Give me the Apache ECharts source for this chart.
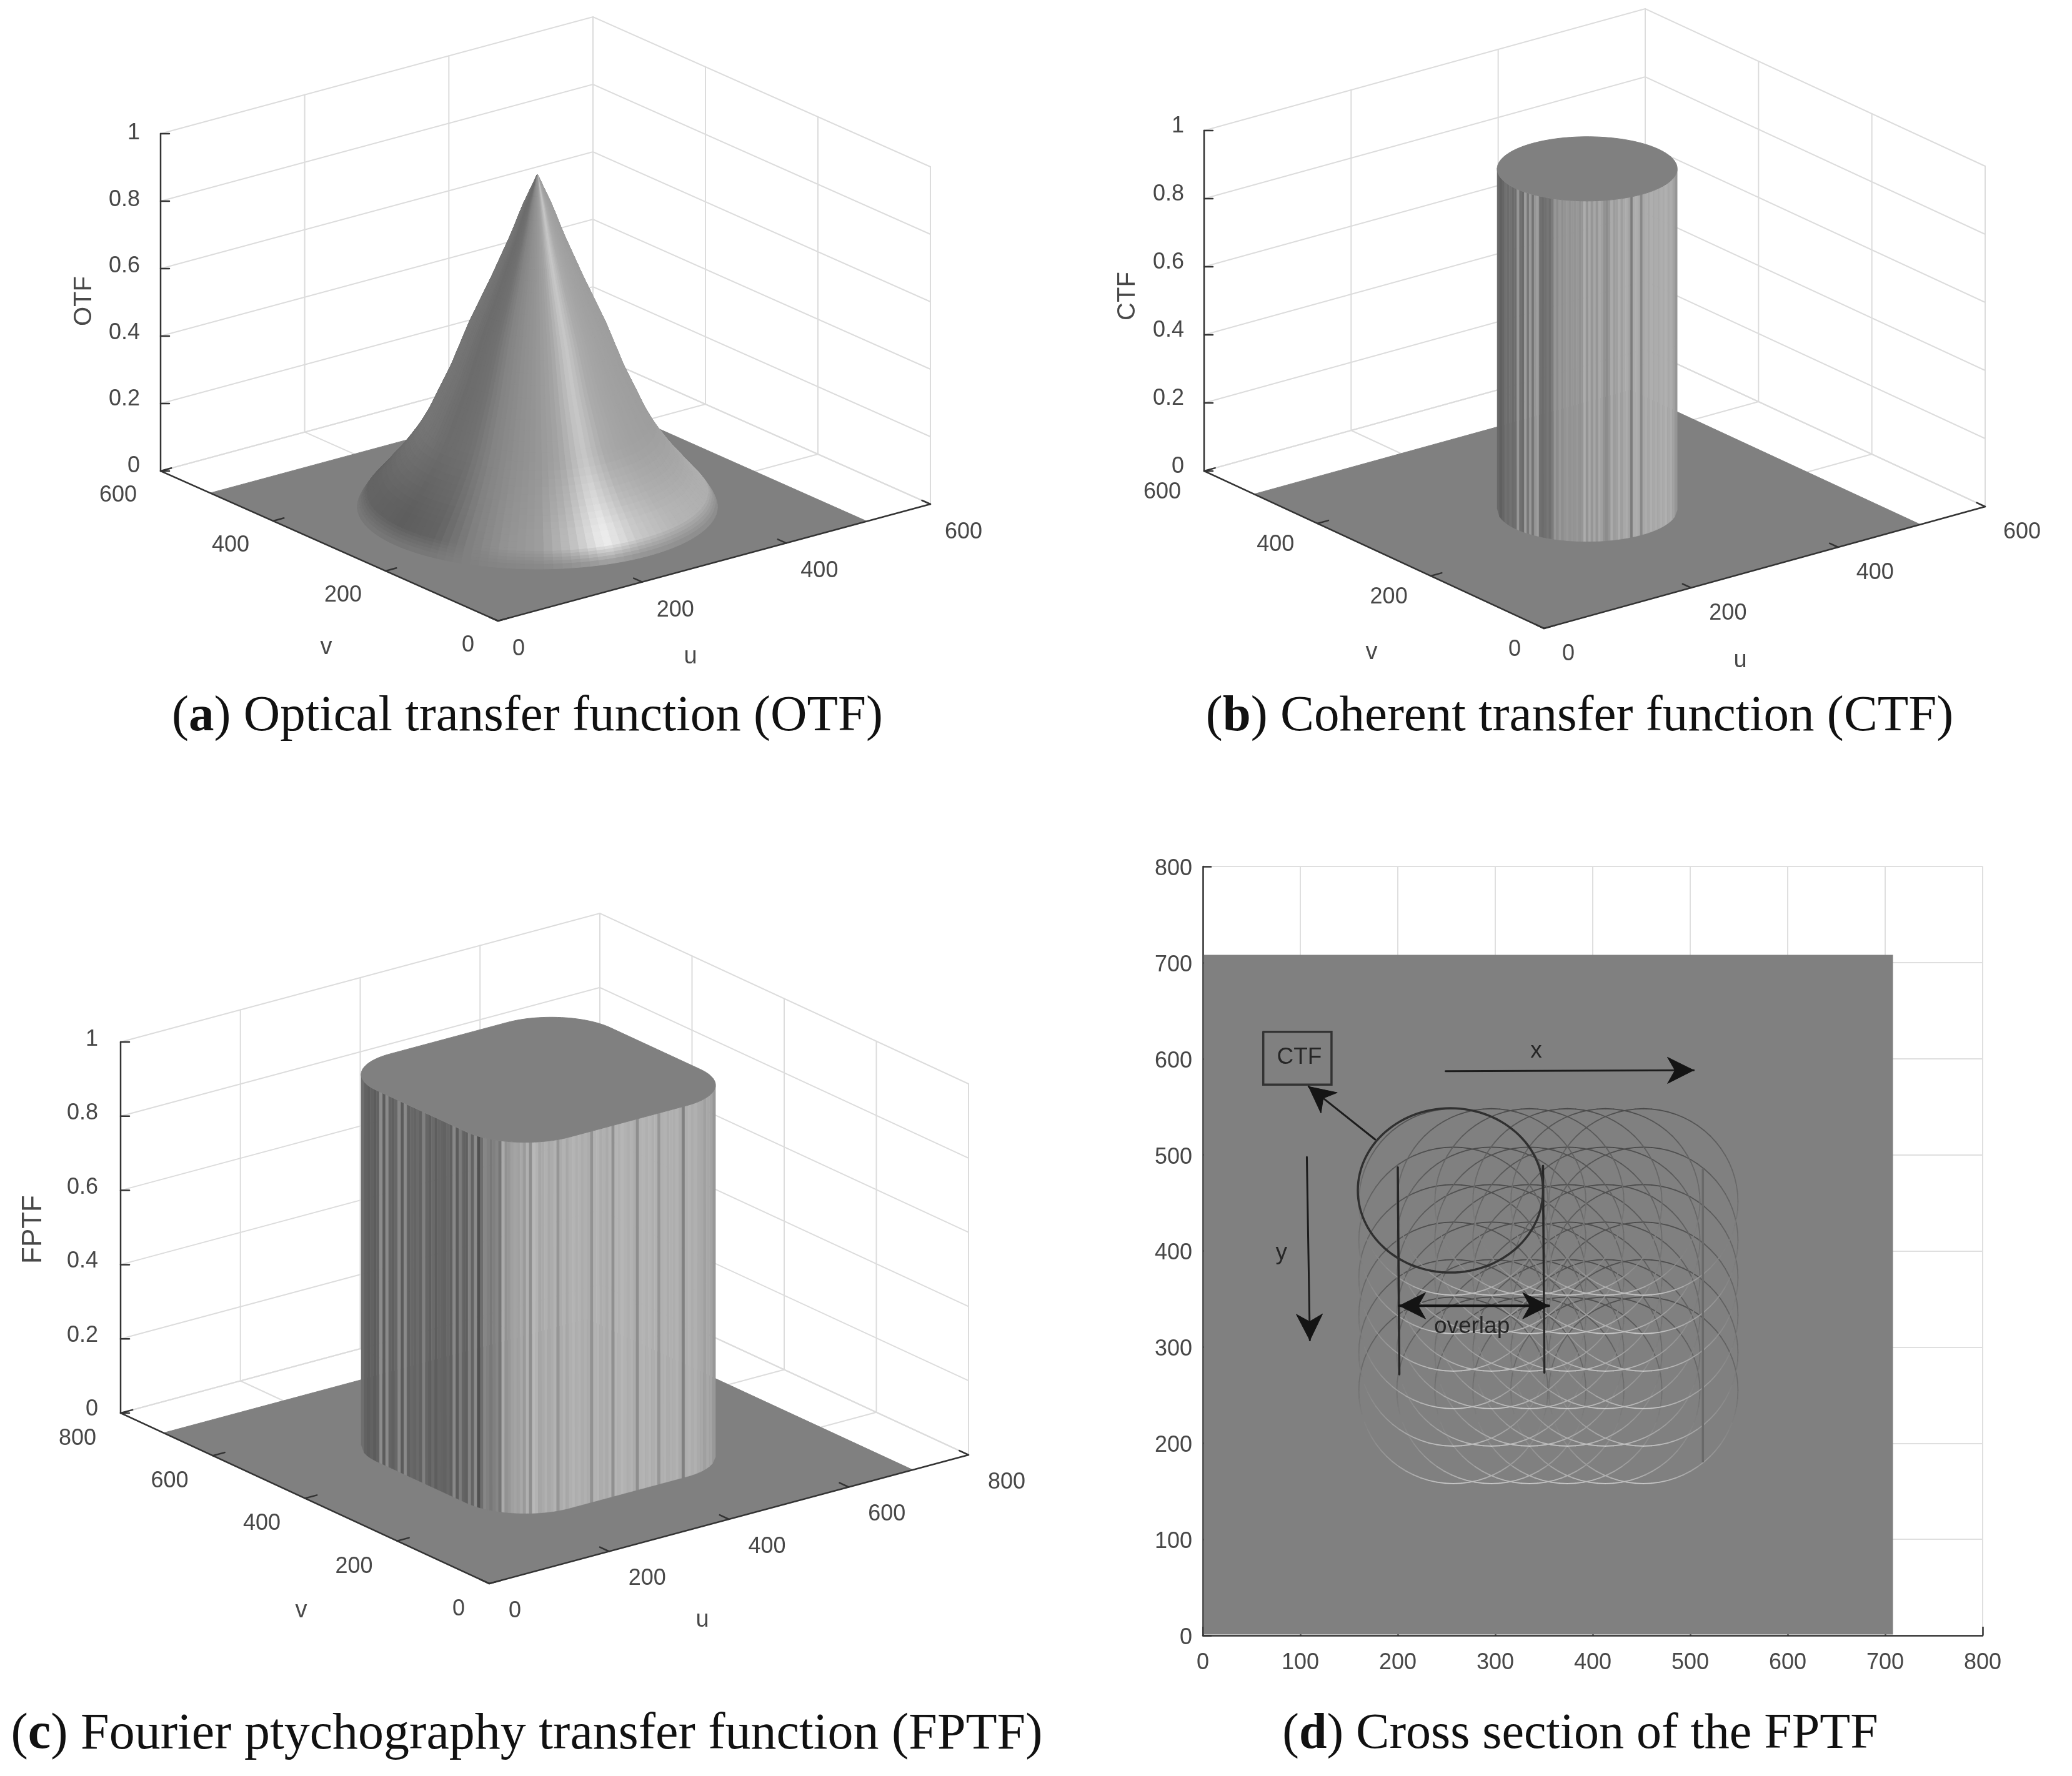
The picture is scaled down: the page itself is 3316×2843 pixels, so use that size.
<!DOCTYPE html>
<html>
<head>
<meta charset="utf-8">
<title>Transfer functions</title>
<style>
  html, body { margin: 0; padding: 0; background: #fff; }
  #main { width: 3316px; height: 2843px; }
</style>
<script src="https://cdn.jsdelivr.net/npm/echarts@6/dist/echarts.min.js"></script>
</head>
<body>
<div id="main"></div>
<script>
// tick labels
const zTicks = [0, 0.2, 0.4, 0.6, 0.8, 1]
const uvTicksSmall = [0, 200, 400, 600]
const uvTicksLarge = [0, 200, 400, 600, 800]
const sectionTicks = [0, 100, 200, 300, 400, 500, 600, 700, 800]

// surface extents
const smallFloorSize = 512
const largeFloorSize = 707

// (a) OTF profile: height against distance from the peak
const otfRadius = [0, 5, 10, 15, 20, 25, 30, 35, 40, 45, 50, 55, 60, 65, 70, 75, 80, 85, 90, 95, 100, 105, 110, 115, 120, 125, 130, 135, 140, 145, 150, 155, 160, 165, 170, 175, 180, 185, 187, 189, 191, 193, 195, 197]
const otfHeight = [0.985, 0.957, 0.928, 0.9, 0.867, 0.833, 0.8, 0.77, 0.74, 0.71, 0.68, 0.652, 0.624, 0.596, 0.568, 0.54, 0.508, 0.475, 0.443, 0.41, 0.382, 0.355, 0.328, 0.3, 0.273, 0.25, 0.228, 0.208, 0.19, 0.172, 0.155, 0.139, 0.124, 0.109, 0.094, 0.079, 0.064, 0.05, 0.043, 0.036, 0.028, 0.02, 0.012, 0]
const otfCenter = [256, 258]
// gray level on the cone, across it from left edge to right edge
const shadeAcross = [-1, -0.8, -0.6, -0.4, -0.2, 0, 0.2, 0.4, 0.6, 0.8, 1]
const otfShadeUpper = [118, 108, 112, 132, 142, 150, 165, 200, 170, 162, 158]
const otfShadeFoot = [100, 94, 100, 128, 146, 156, 190, 238, 200, 182, 175]

// (b) CTF cylinder
const ctfCenter = [256, 256]
const ctfRadius = 97
const ctfStripes = [104, 96, 102, 112, 108, 114, 108, 110, 150, 112, 108, 156, 120, 152, 116, 150, 158, 112, 108, 112, 118, 112, 124, 150, 140, 152, 142, 148, 152, 146, 150, 148, 152, 146, 150, 172, 148, 168, 150, 166, 150, 168, 160, 146, 140, 150, 170, 156, 160, 172, 158, 168, 172, 164, 124, 172, 174, 170, 136, 168, 172, 166, 174, 168, 172, 168, 174, 170, 176, 168, 172, 162, 150]

// (c) FPTF rounded block
const fptfLow = 160
const fptfHigh = 550
const fptfCorner = 97
const fptfStripes = [110, 98, 94, 98, 92, 98, 140, 92, 138, 100, 96, 104, 135, 92, 138, 98, 104, 100, 106, 98, 128, 102, 96, 106, 94, 102, 100, 98, 104, 96, 136, 92, 124, 100, 96, 130, 100, 140, 80, 110, 134, 128, 120, 128, 134, 118, 170, 146, 152, 160, 164, 160, 168, 154, 176, 142, 184, 178, 166, 170, 176, 168, 172, 178, 150, 172, 178, 168, 176, 180, 174, 178, 172, 176, 172, 146, 178, 180, 172, 176, 170, 178, 144, 180, 176, 182, 178, 174, 178, 172, 142, 178, 180, 176, 180, 174, 178, 150, 176, 178, 172, 176, 174, 178, 170, 128, 174, 178, 172, 176, 170, 168, 160, 168, 164, 152]

// (d) scan positions of the CTF circle, and its radius
const scanCentersX = [257, 296, 335, 374, 413, 452]
const scanCentersY = [255, 294, 333, 372, 411, 451]
const scanRadius = 97
// gray of a circle's edge, every 30 degrees counter clockwise from the right
const scanEdgeShade = [110, 98, 84, 72, 84, 98, 114, 138, 165, 205, 165, 138]
const sectionImageExtent = [1, 708]

// (d) annotation, in axis values
const guideLines = [[[200, 487], [201.6, 271.6]], [[349, 488.5], [350.4, 273.4]]]
const faintGuide = [[513, 485], [513, 181]]
const ctfEllipse = { center: [254, 463], rx: 95, ry: 85.5 }
const ctfBox = [[62, 628], [132, 573]]
const singleArrows = [[[249, 587], [503.6, 588]], [[106.7, 497.7], [109.8, 307]], [[176.7, 516], [108.5, 571]]]
const overlapArrow = [[201.6, 343], [355, 343]]
const sectionNotes = [['x', 342, 608], ['y', 80.6, 398], ['overlap', 276, 321], ['CTF', 99, 601]]

const captions = [
  ['a', ') Optical transfer function (OTF)', 844, 1148, 81],
  ['b', ') Coherent transfer function (CTF)', 2528, 1148, 81],
  ['c', ') Fourier ptychography transfer function (FPTF)', 843, 2777, 82],
  ['d', ') Cross section of the FPTF', 2529, 2777, 80],
]

const FLOOR = '#808080'
const AXIS = '#333333'
const WALL = '#dcdcdc'
const LABEL = '#484848'
const SANS = '"Liberation Sans", Arial, sans-serif'
const SERIF = '"Liberation Serif", serif'
const LABEL_SIZE = 36

const panelA = {
  front: [797, 994], uEnd: [1489, 807], vEnd: [257, 754], zHeight: 540, uvMax: 600, ticks: uvTicksSmall,
  uOffset: [23, 45], vOffset: [-38, 39], zOffset: [-33, -8, -1], uName: [1105, 1052], vName: [522, 1037],
  zName: ['OTF', 135, 482, 40], floor: smallFloorSize,
}
const panelB = {
  front: [2471, 1006], uEnd: [3177, 811], vEnd: [1927, 754], zHeight: 545, uvMax: 600, ticks: uvTicksSmall,
  uOffset: [29, 41], vOffset: [-37, 34], zOffset: [-32, -7, -7], uName: [2785, 1058], vName: [2195, 1045],
  zName: ['CTF', 1805, 474, 40], floor: smallFloorSize,
}
const panelC = {
  front: [783, 2535], uEnd: [1550, 2329], vEnd: [193, 2262], zHeight: 594, uvMax: 800, ticks: uvTicksLarge,
  uOffset: [31, 44], vOffset: [-39, 41], zOffset: [-36, -6, -4], uName: [1124, 2594], vName: [482, 2579],
  zName: ['FPTF', 54, 1968, 44], floor: largeFloorSize,
}

const gray = (v) => {
  const c = Math.max(0, Math.min(255, Math.round(v)))
  return 'rgb(' + c + ',' + c + ',' + c + ')'
}

const lookup = (xs, ys, x) => {
  for (let i = 1; i < xs.length; i++) {
    if (x <= xs[i]) {
      return ys[i - 1] + (ys[i] - ys[i - 1]) * (x - xs[i - 1]) / (xs[i] - xs[i - 1])
    }
  }
  return ys[ys.length - 1]
}

// orthographic view of the box, anchored on its three floor corners
const project = (p, u, v, z) => [
  p.front[0] + (u * (p.uEnd[0] - p.front[0]) + v * (p.vEnd[0] - p.front[0])) / p.uvMax,
  p.front[1] + (u * (p.uEnd[1] - p.front[1]) + v * (p.vEnd[1] - p.front[1])) / p.uvMax - z * p.zHeight,
]

const polyline = (points, stroke, lineWidth) => ({
  type: 'polyline', shape: { points }, style: { stroke, lineWidth, fill: null, lineCap: 'round' },
})
const polygon = (points, fill, lineWidth) => ({
  type: 'polygon', shape: { points }, style: { fill, stroke: fill, lineWidth: lineWidth === undefined ? 1 : lineWidth },
})
const label = (text, x, y, align, size, fill, rotation) => ({
  type: 'text', x, y, rotation: rotation || 0,
  style: { text, x: 0, y: 0, align, verticalAlign: 'middle', font: (size || LABEL_SIZE) + 'px ' + SANS, fill: fill || LABEL },
})

const customSeries = (xAxisIndex, z, build) => ({
  type: 'custom', xAxisIndex, yAxisIndex: xAxisIndex, coordinateSystem: 'cartesian2d', clip: false, silent: true, z,
  data: [0], animation: false,
  renderItem: (params, api) => ({ type: 'group', children: build(api) }),
})

// back walls and floor grid, below the surface
const buildWalls = (p) => (api) => {
  const at = (u, v, z) => api.coord(project(p, u, v, z))
  const m = p.uvMax
  const out = []
  zTicks.forEach((z) => {
    out.push(polyline([at(0, m, z), at(m, m, z), at(m, 0, z)], WALL, 2))
  })
  p.ticks.forEach((t) => {
    out.push(polyline([at(t, m, 0), at(t, m, 1)], WALL, 2))
    out.push(polyline([at(m, t, 0), at(m, t, 1)], WALL, 2))
    out.push(polyline([at(t, 0, 0), at(t, m, 0)], WALL, 2))
    out.push(polyline([at(0, t, 0), at(m, t, 0)], WALL, 2))
  })
  const f = p.floor
  out.push(polygon([at(1, 1, 0), at(f, 1, 0), at(f, f, 0), at(1, f, 0)], FLOOR))
  return out
}

// axis lines, ticks and labels
const buildAxes = (p) => (api) => {
  const at = (u, v, z) => api.coord(project(p, u, v, z))
  const m = p.uvMax
  const tick = m * 0.025
  const out = [
    polyline([at(m, 0, 0), at(0, 0, 0), at(0, m, 0), at(0, m, 1)], AXIS, 2.5),
  ]
  p.ticks.forEach((t) => {
    out.push(polyline([at(t, 0, 0), at(t, tick, 0)], AXIS, 2.5))
    out.push(polyline([at(0, t, 0), at(tick, t, 0)], AXIS, 2.5))
    const uPos = at(t, 0, 0)
    const vPos = at(0, t, 0)
    out.push(label(String(t), uPos[0] + p.uOffset[0], uPos[1] + p.uOffset[1], 'left'))
    out.push(label(String(t), vPos[0] + p.vOffset[0], vPos[1] + p.vOffset[1], 'right'))
  })
  zTicks.forEach((z) => {
    const pos = at(0, m, z)
    const dy = p.zOffset[1] + (p.zOffset[2] - p.zOffset[1]) * z
    out.push(polyline([pos, [pos[0] + 14, pos[1]]], AXIS, 2.5))
    out.push(label(String(z), pos[0] + p.zOffset[0], pos[1] + dy, 'right'))
  })
  out.push(label('u', p.uName[0], p.uName[1], 'center', 38))
  out.push(label('v', p.vName[0], p.vName[1], 'center', 38))
  out.push(label(p.zName[0], p.zName[1], p.zName[2], 'center', p.zName[3], LABEL, Math.PI / 2))
  return out
}

// cone: one small facet per ring and sector, far ones painted first
const buildCone = (p) => (api) => {
  const ax = (p.uEnd[0] - p.front[0]) / p.uvMax
  const bx = (p.vEnd[0] - p.front[0]) / p.uvMax
  const ay = (p.uEnd[1] - p.front[1]) / p.uvMax
  const by = (p.vEnd[1] - p.front[1]) / p.uvMax
  const heading = Math.atan2(bx, ax)
  const depthZ = -(ay * -bx + by * ax) / p.zHeight
  const sectors = 120
  const point = (r, t, z) => [otfCenter[0] + r * Math.cos(t), otfCenter[1] + r * Math.sin(t), z]
  const facets = []
  for (let i = 0; i < otfRadius.length - 1; i++) {
    const r0 = otfRadius[i]
    const r1 = otfRadius[i + 1]
    const rMid = (r0 + r1) / 2
    const blend = Math.max(0, Math.min(1, (rMid - 125) / 50))
    const rim = Math.max(0, Math.min(1, (rMid - 186) / 10)) * 0.7
    for (let j = 0; j < sectors; j++) {
      const t0 = j / sectors * 2 * Math.PI
      const t1 = (j + 1) / sectors * 2 * Math.PI
      const across = Math.cos((t0 + t1) / 2 - heading)
      const upper = lookup(shadeAcross, otfShadeUpper, across)
      const foot = lookup(shadeAcross, otfShadeFoot, across)
      const shade = (upper + (foot - upper) * blend) * (1 - rim) + 128 * rim
      const corners = [
        point(r0, t0, otfHeight[i]), point(r1, t0, otfHeight[i + 1]),
        point(r1, t1, otfHeight[i + 1]), point(r0, t1, otfHeight[i]),
      ]
      const mid = point(rMid, (t0 + t1) / 2, (otfHeight[i] + otfHeight[i + 1]) / 2)
      facets.push({ depth: -bx * mid[0] + ax * mid[1] + depthZ * mid[2], corners, shade })
    }
  }
  facets.sort((f, g) => g.depth - f.depth)
  return facets.map((f) => polygon(f.corners.map((c) => api.coord(project(p, c[0], c[1], c[2]))), gray(f.shade)))
}

const roundedOutline = (low, high, corner) => {
  const lowC = low + corner
  const highC = high - corner
  const centers = [[highC, highC], [lowC, highC], [lowC, lowC], [highC, lowC]]
  const out = []
  centers.forEach((c, k) => {
    for (let s = 0; s <= 30; s++) {
      const t = (k + s / 30) * Math.PI / 2
      out.push([c[0] + corner * Math.cos(t), c[1] + corner * Math.sin(t)])
    }
  })
  return out
}

// upright solid: striped front side, then the flat top
const buildBlock = (p, outline, stripes) => (api) => {
  const floorPts = outline.map((o) => api.coord(project(p, o[0], o[1], 0)))
  const topPts = outline.map((o) => api.coord(project(p, o[0], o[1], 1)))
  let first = 0
  let last = 0
  floorPts.forEach((pt, i) => {
    if (pt[0] < floorPts[first][0]) first = i
    if (pt[0] > floorPts[last][0]) last = i
  })
  const frontEdge = []
  for (let i = first; ; i = (i + 1) % floorPts.length) {
    if (!frontEdge.length || floorPts[i][0] > frontEdge[frontEdge.length - 1][0]) frontEdge.push(floorPts[i])
    if (i === last) break
  }
  const xs = frontEdge.map((e) => e[0])
  const ys = frontEdge.map((e) => e[1])
  const left = xs[0]
  const step = (xs[xs.length - 1] - left) / stripes.length
  const rise = floorPts[0][1] - topPts[0][1]
  const out = stripes.map((shade, i) => {
    const x0 = left + i * step
    const x1 = x0 + step
    const y0 = lookup(xs, ys, x0)
    const y1 = lookup(xs, ys, x1)
    return polygon([[x0, y0], [x1, y1], [x1, y1 - rise], [x0, y0 - rise]], gray(shade), 0.6)
  })
  out.push(polygon(topPts, FLOOR))
  return out
}

const arrowHead = (from, to) => {
  const dx = to[0] - from[0]
  const dy = to[1] - from[1]
  const len = Math.sqrt(dx * dx + dy * dy)
  const ux = dx / len
  const uy = dy / len
  const back = 42
  const wide = 21
  const notch = 30
  return polygon([
    to,
    [to[0] - ux * back - uy * wide, to[1] - uy * back + ux * wide],
    [to[0] - ux * notch, to[1] - uy * notch],
    [to[0] - ux * back + uy * wide, to[1] - uy * back - ux * wide],
  ], '#141414', 1)
}

const buildSectionImage = (api) => {
  const [lo, hi] = sectionImageExtent
  const out = [polygon([api.coord([lo, lo]), api.coord([hi, lo]), api.coord([hi, hi]), api.coord([lo, hi])], FLOOR, 0)]
  const steps = 72
  const angles = scanEdgeShade.map((_, k) => k * 30).concat([360])
  const shades = scanEdgeShade.concat([scanEdgeShade[0]])
  scanCentersY.forEach((cy) => {
    scanCentersX.forEach((cx) => {
      for (let s = 0; s < steps; s++) {
        const t0 = s / steps * 2 * Math.PI
        const t1 = (s + 1) / steps * 2 * Math.PI
        let shade = lookup(angles, shades, (s + 0.5) * 360 / steps)
        const y = cy + scanRadius * Math.sin((t0 + t1) / 2)
        // the bright lower edges only show up in the low part of the image
        if (shade > 128) shade = 128 + (shade - 128) * Math.max(0.1, Math.min(1, (405 - y) / 45))
        out.push(polyline([
          api.coord([cx + scanRadius * Math.cos(t0), cy + scanRadius * Math.sin(t0)]),
          api.coord([cx + scanRadius * Math.cos(t1), cy + scanRadius * Math.sin(t1)]),
        ], gray(shade), 1.8))
      }
    })
  })
  return out
}

const buildSectionNotes = (api) => {
  const out = []
  out.push(polyline(faintGuide.map((c) => api.coord(c)), '#696969', 3.5))
  guideLines.forEach((g) => out.push(polyline(g.map((c) => api.coord(c)), '#262626', 3.5)))
  const ellipse = []
  for (let s = 0; s <= 120; s++) {
    const t = s / 120 * 2 * Math.PI
    ellipse.push(api.coord([ctfEllipse.center[0] + ctfEllipse.rx * Math.cos(t), ctfEllipse.center[1] + ctfEllipse.ry * Math.sin(t)]))
  }
  out.push(polyline(ellipse, '#303030', 3.5))
  const b0 = ctfBox[0]
  const b1 = ctfBox[1]
  out.push(polyline([[b0[0], b0[1]], [b1[0], b0[1]], [b1[0], b1[1]], [b0[0], b1[1]], [b0[0], b0[1]]].map((c) => api.coord(c)), '#333333', 3.5))
  singleArrows.forEach((a) => {
    const from = api.coord(a[0])
    const to = api.coord(a[1])
    out.push(polyline([from, to], '#1c1c1c', 3))
    out.push(arrowHead(from, to))
  })
  const left = api.coord(overlapArrow[0])
  const right = api.coord(overlapArrow[1])
  out.push(polyline([left, right], '#141414', 4))
  out.push(arrowHead(right, left))
  out.push(arrowHead(left, right))
  sectionNotes.forEach((n) => {
    const pos = api.coord([n[1], n[2]])
    out.push(label(n[0], pos[0], pos[1], 'center', 37, '#262626'))
  })
  return out
}

const sectionAxis = (extra) => Object.assign({
  type: 'value', min: 0, max: 800, interval: 100,
  axisLine: { show: true, onZero: false, lineStyle: { color: AXIS, width: 2.5 } },
  axisTick: { show: true, inside: true, length: 14, lineStyle: { color: AXIS, width: 2.5 } },
  splitLine: { show: true, lineStyle: { color: '#dfdfdf', width: 2 } },
}, extra)

const chart = echarts.init(document.getElementById('main'))
chart.setOption({
  animation: false,
  backgroundColor: '#ffffff',
  title: captions.map((c) => ({
    text: '({b|' + c[0] + '}' + c[1],
    left: c[2], top: c[3], textAlign: 'center', textVerticalAlign: 'middle',
    padding: 0,
    textStyle: {
      fontFamily: SERIF, fontSize: c[4], fontWeight: 'normal', color: '#111111',
      rich: { b: { fontFamily: SERIF, fontSize: c[4], fontWeight: 'bold', color: '#111111' } },
    },
  })),
  grid: [
    { left: 0, top: 0, width: 3316, height: 2843 },
    { left: 1925, top: 1387, width: 1248, height: 1231 },
  ],
  xAxis: [
    { type: 'value', min: 0, max: 3316, show: false },
    sectionAxis({ gridIndex: 1, position: 'bottom', axisLabel: { fontFamily: SANS, fontSize: LABEL_SIZE, color: LABEL, margin: 26 } }),
  ],
  yAxis: [
    { type: 'value', min: 0, max: 2843, inverse: true, show: false },
    sectionAxis({
      gridIndex: 1, position: 'left',
      axisLabel: {
        margin: 17,
        formatter: '{t|{value}}',
        rich: { t: { fontFamily: SANS, fontSize: LABEL_SIZE, color: LABEL, padding: [8, 0, 0, 0] } },
      },
    }),
  ],
  series: [
    customSeries(0, 2, buildWalls(panelA)),
    customSeries(0, 3, buildAxes(panelA)),
    customSeries(0, 4, buildCone(panelA)),
    customSeries(0, 2, buildWalls(panelB)),
    customSeries(0, 3, buildAxes(panelB)),
    customSeries(0, 4, buildBlock(panelB, roundedOutline(ctfCenter[0] - ctfRadius, ctfCenter[0] + ctfRadius, ctfRadius), ctfStripes)),
    customSeries(0, 2, buildWalls(panelC)),
    customSeries(0, 3, buildAxes(panelC)),
    customSeries(0, 4, buildBlock(panelC, roundedOutline(fptfLow, fptfHigh, fptfCorner), fptfStripes)),
    customSeries(1, 2, buildSectionImage),
    customSeries(1, 3, buildSectionNotes),
  ],
})
</script>
</body>
</html>
